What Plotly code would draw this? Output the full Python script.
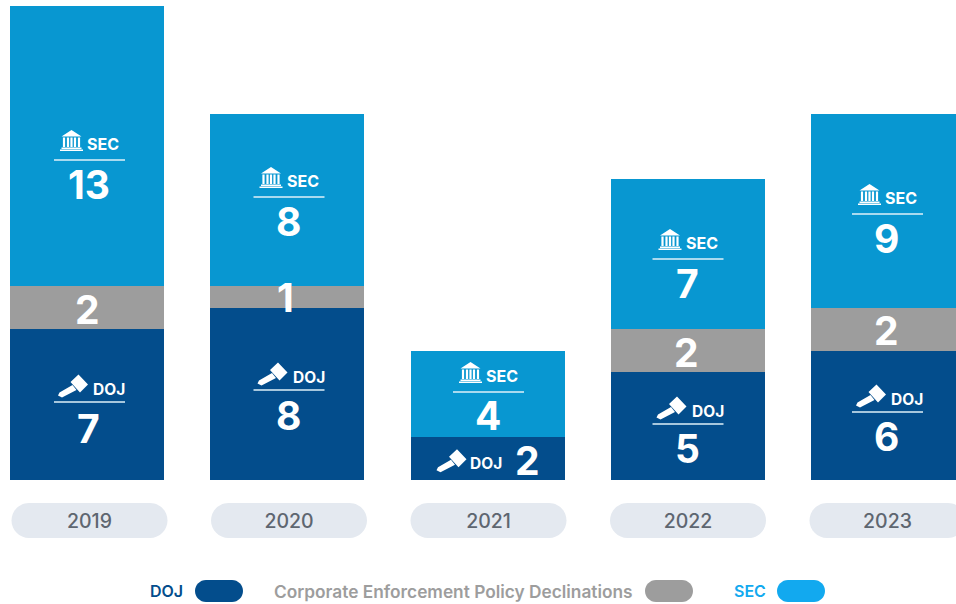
import plotly.graph_objects as go

# Enforcement actions per year
years = ["2019", "2020", "2021", "2022", "2023"]
doj_actions = [7, 8, 2, 5, 6]
cep_declinations = [2, 1, 0, 2, 2]
sec_actions = [13, 8, 4, 7, 9]

DOJ_BLUE = "#034d8c"
GREY = "#9d9d9d"
SEC_BLUE = "#0897d1"
FONT = "Inter"

W, H = 956, 604
BASE_PX = 480        # pixel row of the zero line
UNIT_PX = 21.53      # pixels per action
X0_PX = 87           # centre of the first bar
PITCH_PX = 200.25    # distance between bars
BAR_PX = 154


def data_x(px):
    return (px - X0_PX) / PITCH_PX


def data_y(py):
    return (BASE_PX - py) / UNIT_PX


def poly(points):
    return "M" + " L".join(f"{x:.1f},{y:.1f}" for x, y in points) + " Z"


def pill_path(half_w, half_h):
    k = half_h * 0.552
    inner = half_w - half_h
    return (
        f"M{-inner},{half_h} L{inner},{half_h} "
        f"C{inner + k},{half_h} {half_w},{k} {half_w},0 "
        f"C{half_w},{-k} {inner + k},{-half_h} {inner},{-half_h} "
        f"L{-inner},{-half_h} "
        f"C{-inner - k},{-half_h} {-half_w},{-k} {-half_w},0 "
        f"C{-half_w},{k} {-inner - k},{half_h} {-inner},{half_h} Z"
    )


# Icons are drawn around a local origin, y pointing up
BANK_ICON = " ".join([
    poly([(-28, 23.5), (-8, 23.5), (-18, 30)]),
    *[poly([(x, 13), (x + 2.2, 13), (x + 2.2, 22.5), (x, 22.5)])
      for x in (-26.6, -22.6, -19.1, -15.6, -11.6)],
    poly([(-28, 11), (-8, 11), (-8, 12.6), (-28, 12.6)]),
    poly([(-29.5, 9), (-6.5, 9), (-6.5, 10.4), (-29.5, 10.4)]),
])
GAVEL_ICON = " ".join([
    poly([(-19, 20), (-11, 27.5), (-1.5, 17.5), (-9.5, 9.5)]),
    poly([(-31.5, 6.5), (-30, 9.5), (-17, 17), (-13, 12), (-27.5, 4.5)]),
])

# Header block anchors: centre x and rule row, one per bar
HEADER_X = [89.5, 289, 488.5, 688, 887.5]
SEC_RULE_Y = [160, 197, 392, 259, 214]
SEC_NUMBER_Y = [184, 221, 415, 283, 238]
DOJ_RULE_Y = [402, 390, None, 424, 412]
DOJ_NUMBER_Y = [428, 415, None, 448, 436]
GREY_NUMBER_Y = [309, 297, None, 352, 330]
GREY_NUMBER_X = [87, 285, None, 686, 886]

fig = go.Figure()
for name, values, colour in [
    ("DOJ", doj_actions, DOJ_BLUE),
    ("Corporate Enforcement Policy Declinations", cep_declinations, GREY),
    ("SEC", sec_actions, SEC_BLUE),
]:
    fig.add_bar(x=list(range(len(years))), y=values, name=name,
                width=BAR_PX / PITCH_PX, marker=dict(color=colour, line_width=0),
                showlegend=False, hoverinfo="x+y+name")

shapes, notes = [], []


def add_icon(path, px, py):
    shapes.append(dict(type="path", path=path, xsizemode="pixel", ysizemode="pixel",
                       xref="x", yref="y", xanchor=data_x(px), yanchor=data_y(py),
                       fillcolor="white", line_width=0, layer="above"))


def add_text(text, px, py, size, weight=700, color="white", anchor="center"):
    notes.append(dict(text=text, x=data_x(px), y=data_y(py), xref="x", yref="y",
                      showarrow=False, xanchor=anchor, yanchor="middle",
                      font=dict(family=FONT, size=size, color=color, weight=weight)))


def add_rule(px, py):
    shapes.append(dict(type="line", xref="x", yref="y",
                       x0=data_x(px - 35.5), x1=data_x(px + 35.5),
                       y0=data_y(py), y1=data_y(py),
                       line=dict(color="#dff0f8", width=1.5), layer="above"))


for i, year in enumerate(years):
    cx = HEADER_X[i]
    # SEC block
    rule = SEC_RULE_Y[i]
    add_icon(BANK_ICON, cx, rule)
    add_text("SEC", cx - 4.5, rule - 16, 16, 700, anchor="left")
    add_rule(cx, rule)
    add_text(str(sec_actions[i]), cx - 1, SEC_NUMBER_Y[i], 39)
    # DOJ block; the short 2021 bar sets icon and number on a single row
    if DOJ_RULE_Y[i] is None:
        add_icon(GAVEL_ICON, 468, 476.7)
        add_text("DOJ", 468, 463, 15.5, 700, anchor="left")
        add_text(str(doj_actions[i]), 527, 460, 39)
    else:
        rule = DOJ_RULE_Y[i]
        add_icon(GAVEL_ICON, cx, rule)
        add_text("DOJ", cx + 1.5, rule - 13, 15.5, 700, anchor="left")
        add_rule(cx, rule)
        add_text(str(doj_actions[i]), cx - 1, DOJ_NUMBER_Y[i], 39)
    # Declinations label
    if cep_declinations[i]:
        add_text(str(cep_declinations[i]), GREY_NUMBER_X[i], GREY_NUMBER_Y[i], 39)
    # Year pill behind the axis label
    shapes.append(dict(type="path", path=pill_path(78, 17.5), xsizemode="pixel",
                       ysizemode="pixel", xref="x", yref="paper", xanchor=data_x(cx),
                       yanchor=(BASE_PX - 520.5) / BASE_PX, fillcolor="#e4e9f0",
                       line_width=0, layer="below"))

# Legend row: label, right edge of text, pill centre, text colour, pill colour, text size
LEGEND = [
    ("DOJ", 185, 219, DOJ_BLUE, DOJ_BLUE, 16),
    ("Corporate Enforcement Policy Declinations", 635, 669, GREY, GREY, 17.3),
    ("SEC", 768, 801, "#12a9ef", "#12a9ef", 16),
]
for label, text_right, pill_x, text_colour, pill_colour, size in LEGEND:
    notes.append(dict(text=label, x=text_right / W, y=(BASE_PX - 591) / BASE_PX,
                      xref="paper", yref="paper", showarrow=False, xanchor="right",
                      yanchor="middle",
                      font=dict(family=FONT, size=size, color=text_colour, weight=600)))
    shapes.append(dict(type="path", path=pill_path(24, 11), xsizemode="pixel",
                       ysizemode="pixel", xref="paper", yref="paper",
                       xanchor=pill_x / W, yanchor=(BASE_PX - 591) / BASE_PX,
                       fillcolor=pill_colour, line_width=0))

fig.update_layout(
    width=W, height=H, autosize=False,
    margin=dict(l=0, r=0, t=0, b=H - BASE_PX),
    barmode="stack", bargap=0,
    paper_bgcolor="white", plot_bgcolor="white",
    xaxis=dict(range=[data_x(0), data_x(W)], tickmode="array",
               tickvals=[data_x(px) for px in HEADER_X], ticktext=years,
               showgrid=False, zeroline=False, showline=False, ticks="",
               ticklabelstandoff=27,
               tickfont=dict(family=FONT, size=19.5, color="#5e6670", weight=500)),
    yaxis=dict(range=[0, BASE_PX / UNIT_PX], visible=False),
    shapes=shapes, annotations=notes,
)

fig.write_html("out.html")
